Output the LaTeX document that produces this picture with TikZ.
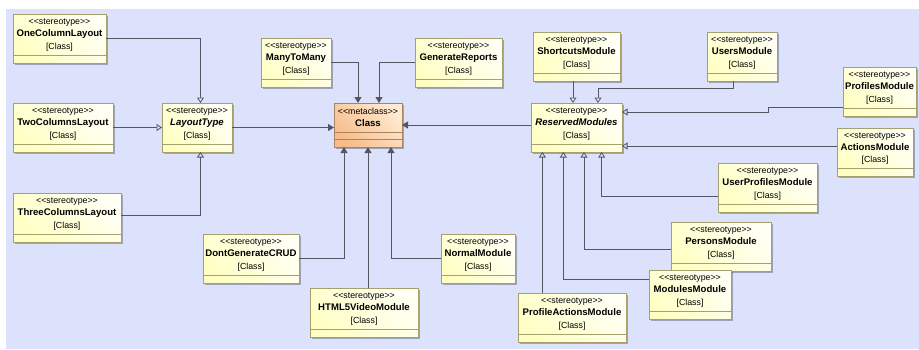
\documentclass[tikz,border=0pt]{standalone}
\usepackage{fontspec}
\setmainfont{Liberation Sans}
\usetikzlibrary{arrows.meta,shadows,calc}

\definecolor{canvas}{RGB}{221,226,252}
\definecolor{boxline}{RGB}{165,160,110}
\definecolor{boxlight}{RGB}{255,255,244}
\definecolor{boxdark}{RGB}{255,255,196}
\definecolor{metalight}{RGB}{255,234,210}
\definecolor{metadark}{RGB}{247,188,138}
\definecolor{metaline}{RGB}{170,132,95}
\definecolor{wire}{RGB}{85,85,100}

% angle brackets kept apart so no guillemet ligature forms
\newcommand\lt{\char60\kern0pt\char60\kern0pt}
\newcommand\gt{\kern0pt\char62\kern0pt\char62}
\newcommand\stlabel{{\fontsize{8.8}{12.4}\selectfont\lt stereotype\gt}}
\newcommand\metalabel{{\fontsize{8.8}{12.4}\selectfont\lt metaclass\gt}}
\newcommand\clslabel{{\fontsize{8.8}{12.4}\selectfont[Class]}}
\newcommand\stname[1]{{\fontsize{9.6}{12.4}\selectfont\bfseries #1}}

\tikzset{
  umlbase/.style={draw=boxline, line width=0.8pt, inner sep=0pt, outer sep=0pt,
    drop shadow={shadow xshift=2pt, shadow yshift=-2pt, fill=black, opacity=0.28}},
  stbox/.style={umlbase, left color=boxdark, right color=boxlight, shading angle=135,
    path picture={\draw[boxline, line width=0.8pt]
      ([yshift=7.7pt]path picture bounding box.south west) --
      ([yshift=7.7pt]path picture bounding box.south east);}},
  metabox/.style={umlbase, draw=metaline, left color=metadark, right color=metalight, shading angle=135,
    path picture={\draw[metaline, line width=0.8pt]
      ([yshift=7.4pt]path picture bounding box.south west) --
      ([yshift=7.4pt]path picture bounding box.south east)
      ([yshift=15pt]path picture bounding box.south west) --
      ([yshift=15pt]path picture bounding box.south east);}},
  boxtext/.style={inner sep=0pt, align=center, font=\fontsize{9}{12.4}\selectfont},
  ext/.style={draw=wire, line width=0.8pt, -{Triangle[length=6pt,width=7pt]}},
  gen/.style={draw=wire, line width=0.8pt, -{Triangle[open,length=5.5pt,width=7pt,fill=canvas]}},
}

% stereotype class box: id, x1, y1, x2, y2, name
\newcommand\umlst[6]{%
  \node[stbox, minimum width={(#4)-(#2)}, minimum height={(#5)-(#3)}]
    (#1) at ({((#2)+(#4))/2},{((#3)+(#5))/2}) {};
  \node[boxtext] (#1-txt) at ([yshift=3.5pt]#1.center) {\stlabel\\\stname{#6}\\\clslabel};
}

\begin{document}
\begin{tikzpicture}[x=1pt,y=-1pt]
\useasboundingbox (0,0) rectangle (919,349);
\fill[white] (0,0) rectangle (919,349);
\fill[canvas] (6,9) rectangle (919,349);

% layout stereotypes
\umlst{oneCol}{13}{14}{106}{63}{OneColumnLayout}
\umlst{twoCol}{13}{103}{113}{152}{TwoColumnsLayout}
\umlst{threeCol}{13}{193}{121}{242}{ThreeColumnsLayout}
\umlst{layout}{162}{103}{232}{152}{\itshape LayoutType}

% metaclass
\node[metabox, minimum width=68, minimum height=44] (cls) at (368,125) {};
\node[boxtext] (cls-txt) at ([yshift=7.5pt]cls.center) {\metalabel\\\stname{Class}};

% stereotypes extending the metaclass
\umlst{many}{261}{38}{331}{87}{ManyToMany}
\umlst{genRep}{415}{38}{502}{87}{GenerateReports}
\umlst{dgc}{203}{234}{299}{283}{DontGenerateCRUD}
\umlst{html5}{310}{288}{418}{337}{HTML5VideoModule}
\umlst{normal}{441}{234}{515}{283}{NormalModule}

% reserved modules
\umlst{reserved}{531}{103}{622}{152}{\itshape ReservedModules}
\umlst{shortcuts}{533}{32}{620}{81}{ShortcutsModule}
\umlst{users}{707}{32}{777}{81}{UsersModule}
\umlst{profiles}{843}{67}{916}{116}{ProfilesModule}
\umlst{actions}{837}{128}{913}{176}{ActionsModule}
\umlst{userProfiles}{718}{163}{817}{212}{UserProfilesModule}
\umlst{persons}{671}{222}{771}{271}{PersonsModule}
\umlst{modules}{649}{270}{731}{319}{ModulesModule}
\umlst{profileActions}{518}{293}{626}{342}{ProfileActionsModule}

% generalizations to LayoutType
\draw[gen] (oneCol.east) -| ([xshift=3.5pt]layout.north);
\draw[gen] (twoCol.east) -- (layout.west);
\draw[gen] ([yshift=1.8pt]threeCol.east) -| ([xshift=3.5pt]layout.south);

% extensions of the metaclass
\draw[ext] (layout.east) -- (layout.east -| cls.west);
\draw[ext] (cls.east -| reserved.west) -- (cls.east);
\draw[ext] (many.east) -| ([xshift=-10pt]cls.north);
\draw[ext] (genRep.west) -| ([xshift=11pt]cls.north);
\draw[ext] (dgc.east) -| ([xshift=-24pt]cls.south);
\draw[ext] (html5.north -| cls.south) -- (cls.south);
\draw[ext] (normal.west) -| ([xshift=23pt]cls.south);

% generalizations to ReservedModules
\draw[gen] ([xshift=-3.5pt]shortcuts.south) -- ([xshift=-3.5pt]reserved.north);
\draw[gen] ([xshift=-9pt]users.south) -- ++(0,7) -| ([xshift=21.5pt]reserved.north);
\draw[gen] ([yshift=-15.5pt]profiles.west) -- ++(-75,0) |- ([yshift=15.5pt]reserved.east);
\coordinate (rA) at ([yshift=-18.5pt]reserved.east);
\draw[gen] (rA -| actions.west) -- (rA);
\draw[gen] ([yshift=-8.5pt]userProfiles.west) -| ([xshift=25.2pt]reserved.south);
\draw[gen] ([yshift=-2.5pt]persons.west) -| ([xshift=7.5pt]reserved.south);
\draw[gen] ([yshift=15.5pt]modules.west) -| ([xshift=-13.2pt]reserved.south);
\coordinate (rB) at ([xshift=-34.2pt]reserved.south);
\draw[gen] (profileActions.north -| rB) -- (rB);
\end{tikzpicture}
\end{document}
